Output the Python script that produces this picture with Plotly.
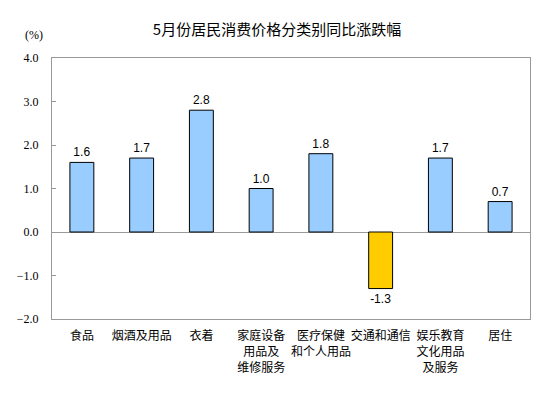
import plotly.graph_objects as go

categories = ["食品", "烟酒及用品", "衣着", "家庭设备<br>用品及<br>维修服务", "医疗保健<br>和个人用品",
              "交通和通信", "娱乐教育<br>文化用品<br>及服务", "居住"]
values = [1.6, 1.7, 2.8, 1.0, 1.8, -1.3, 1.7, 0.7]
y_ticks = [-2.0, -1.0, 0.0, 1.0, 2.0, 3.0, 4.0]
title_text = "5月份居民消费价格分类别同比涨跌幅"
unit_text = "(%)"

colors = ["#FFCC00" if v < 0 else "#99CCFF" for v in values]

# page has an 8px body margin; layout is offset to compensate
OFF = 8

fig = go.Figure()
fig.add_trace(go.Bar(
    x=categories, y=values,
    marker=dict(color=colors, line=dict(color="#000000", width=1)),
    texttemplate="%{y:.1f}", textposition="outside",
    textfont=dict(family="Liberation Sans, Arial, sans-serif", size=12, color="#000000"),
    cliponaxis=False,
))

fig.update_layout(
    width=553, height=398,
    margin=dict(l=52 - OFF, r=23 + OFF, t=58 - OFF, b=79 + OFF, autoexpand=False),
    paper_bgcolor="white", plot_bgcolor="white",
    bargap=0.6,
    showlegend=False,
    title=dict(text=title_text, x=(277 - OFF) / 553, xref="container", xanchor="center",
               y=1 - (30 - OFF) / 398, yref="container", yanchor="middle", automargin=False,
               font=dict(family="Noto Sans CJK SC", size=15, color="#000000")),
    annotations=[dict(text=unit_text, xref="paper", yref="paper",
                      x=-0.038, y=(319 - 35) / 261, xanchor="center", yanchor="middle",
                      showarrow=False,
                      font=dict(family="Liberation Serif, Times New Roman, serif", size=12, color="#000000"))],
)

fig.update_yaxes(
    range=[-2, 4], tickvals=y_ticks, tickformat=".1f",
    ticks="inside", ticklen=4, tickcolor="#999999",
    showgrid=False, showline=True, linecolor="#999999", linewidth=1, mirror=True,
    zeroline=True, zerolinecolor="#999999", zerolinewidth=1,
    ticklabelstandoff=10, automargin=False,
    tickfont=dict(family="Liberation Serif, Times New Roman, serif", size=12, color="#000000"),
)
fig.update_xaxes(
    showgrid=False, showline=True, linecolor="#999999", linewidth=1, mirror=True,
    ticks="", ticklabelstandoff=6, tickangle=0, automargin=False,
    tickfont=dict(family="Noto Sans CJK SC", size=12, color="#000000"),
)

fig.write_html("out.html")
